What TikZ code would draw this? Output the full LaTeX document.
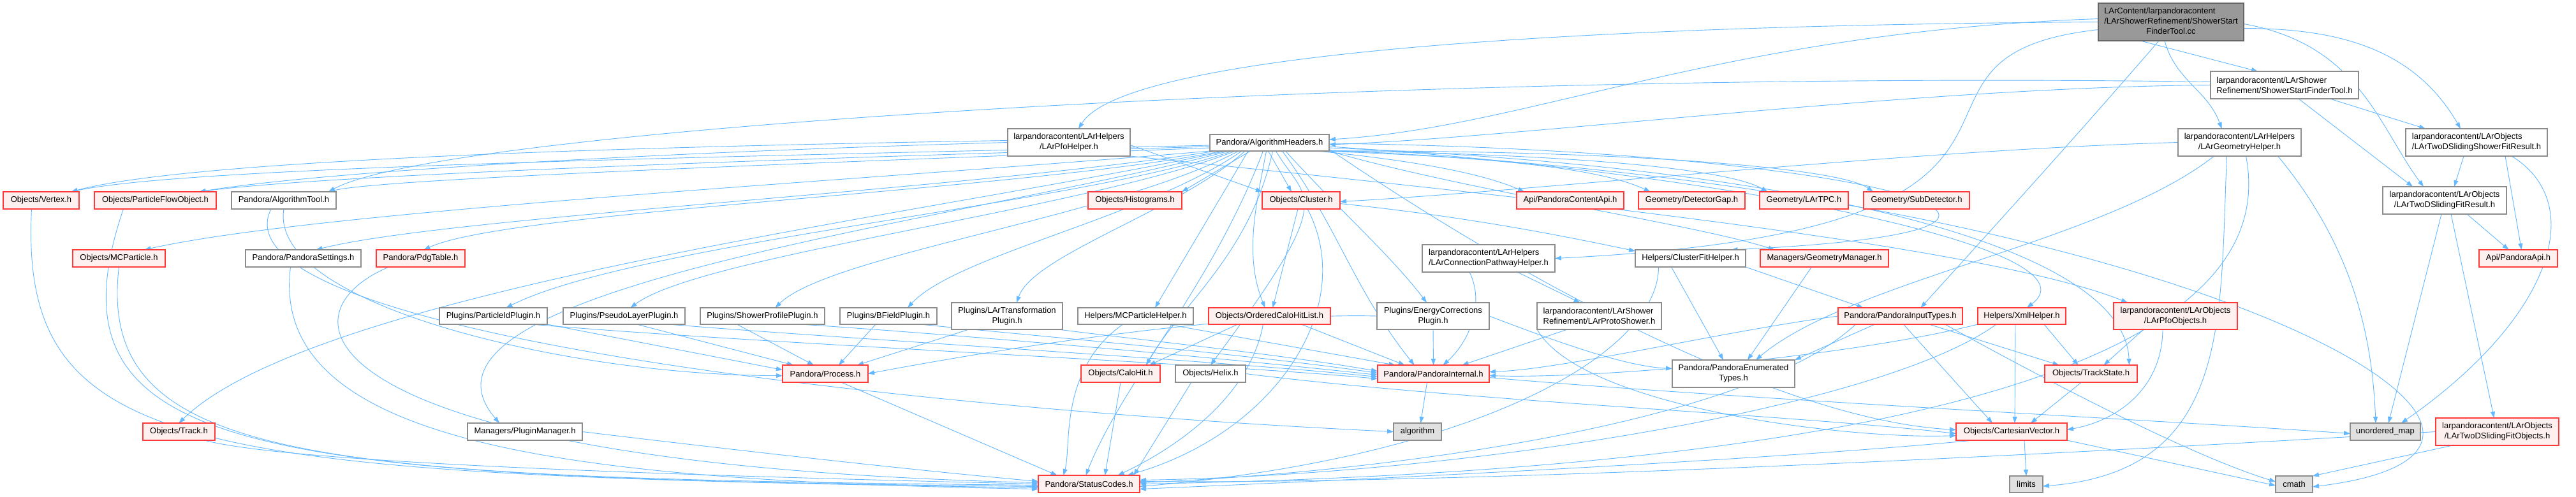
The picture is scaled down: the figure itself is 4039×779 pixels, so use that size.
\documentclass[tikz,border=0pt]{standalone}
\usepackage{fontspec}
\setmainfont{Liberation Sans}
\usetikzlibrary{arrows.meta}
\pgfdeclarelayer{bottom}
\pgfdeclarelayer{edges}
\pgfsetlayers{bottom,edges,main}
\definecolor{edgec}{HTML}{63B8FF}
\definecolor{redfill}{HTML}{FFF0F0}
\definecolor{redline}{HTML}{FF3838}
\definecolor{grayline}{HTML}{8C8C8C}
\definecolor{nolinkfill}{HTML}{E0E0E0}
\definecolor{topfill}{HTML}{999999}
\definecolor{topline}{HTML}{666666}
\newcommand\mkbox[7]{\node[#1, minimum width={(#5-#3)*1pt}, minimum height={(#6-#4)*1pt}] (#2) at ({(#3+#5)/2},{(#4+#6)/2}) {#7};}
\begin{document}
\begin{tikzpicture}[x=1pt,y=-1pt,
  font=\fontsize{13}{16}\selectfont,
  base/.style={draw, line width=1.3pt, inner sep=0pt, outer sep=0pt},
  redbox/.style={base, draw=redline, fill=redfill, align=center},
  whitebox/.style={base, draw=grayline, fill=white, align=center},
  whiteleft/.style={base, draw=grayline, fill=white, align=left},
  nolink/.style={base, draw=grayline, fill=nolinkfill},
  topbox/.style={base, draw=topline, fill=topfill},
  edge/.style={draw=edgec, line width=0.9pt, -{Triangle[length=10pt,width=7pt]}},
]
\useasboundingbox (0,0) rectangle (4039,779);
\begin{pgfonlayer}{bottom}
\fill[white] (0,0) rectangle (4039,779);
\end{pgfonlayer}

% ---------- nodes ----------
\mkbox{topbox}{cc}{3290}{5}{3518}{64}{\begin{tabular}{@{}l@{}}LArContent/larpandoracontent\\/LArShowerRefinement/ShowerStart\\\multicolumn{1}{@{}c@{}}{FinderTool.cc}\end{tabular}}
\mkbox{whiteleft}{sftH}{3466}{112}{3698}{155}{larpandoracontent/LArShower\\Refinement/ShowerStartFinderTool.h}
\mkbox{whitebox}{pfoH}{1580}{202}{1772}{245}{larpandoracontent/LArHelpers\\/LArPfoHelper.h}
\mkbox{whitebox}{algH}{1897}{211}{2084}{237}{Pandora/AlgorithmHeaders.h}
\mkbox{whitebox}{geomH}{3415}{202}{3608}{245}{larpandoracontent/LArHelpers\\/LArGeometryHelper.h}
\mkbox{whiteleft}{tdssfr}{3772}{202}{3994}{245}{larpandoracontent/LArObjects\\/LArTwoDSlidingShowerFitResult.h}
\mkbox{whitebox}{tdsfr}{3736}{293}{3930}{336}{larpandoracontent/LArObjects\\/LArTwoDSlidingFitResult.h}

\mkbox{redbox}{vertex}{5}{301}{124}{328}{Objects/Vertex.h}
\mkbox{redbox}{pfo}{148}{301}{339}{328}{Objects/ParticleFlowObject.h}
\mkbox{whitebox}{algTool}{363}{301}{527}{328}{Pandora/AlgorithmTool.h}
\mkbox{redbox}{histo}{1706}{301}{1853}{328}{Objects/Histograms.h}
\mkbox{redbox}{cluster}{1979}{301}{2101}{328}{Objects/Cluster.h}
\mkbox{redbox}{contentApi}{2378}{301}{2546}{328}{Api/PandoraContentApi.h}
\mkbox{redbox}{detGap}{2569}{301}{2736}{328}{Geometry/DetectorGap.h}
\mkbox{redbox}{lartpc}{2759}{301}{2898}{328}{Geometry/LArTPC.h}
\mkbox{redbox}{subdet}{2922}{301}{3088}{328}{Geometry/SubDetector.h}

\mkbox{whiteleft}{connH}{2230}{384}{2438}{427}{larpandoracontent/LArHelpers\\/LArConnectionPathwayHelper.h}
\mkbox{redbox}{mcp}{114}{392}{259}{419}{Objects/MCParticle.h}
\mkbox{whitebox}{settings}{385}{392}{566}{419}{Pandora/PandoraSettings.h}
\mkbox{redbox}{pdg}{590}{392}{729}{419}{Pandora/PdgTable.h}
\mkbox{whitebox}{cfh}{2564}{392}{2737}{419}{Helpers/ClusterFitHelper.h}
\mkbox{redbox}{geoMgr}{2760}{392}{2961}{419}{Managers/GeometryManager.h}
\mkbox{redbox}{pandoraApi}{3887}{392}{4010}{419}{Api/PandoraApi.h}

\mkbox{whitebox}{pidPlugin}{689}{483}{858}{509}{Plugins/ParticleIdPlugin.h}
\mkbox{whitebox}{pseudoPlugin}{883}{483}{1074}{509}{Plugins/PseudoLayerPlugin.h}
\mkbox{whitebox}{showerPlugin}{1098}{483}{1293}{509}{Plugins/ShowerProfilePlugin.h}
\mkbox{whitebox}{bfieldPlugin}{1317}{483}{1469}{509}{Plugins/BFieldPlugin.h}
\mkbox{whitebox}{lartPlugin}{1492}{475}{1666}{517}{Plugins/LArTransformation\\Plugin.h}
\mkbox{whitebox}{mcpHelper}{1690}{483}{1871}{509}{Helpers/MCParticleHelper.h}
\mkbox{redbox}{ocl}{1895}{483}{2086}{509}{Objects/OrderedCaloHitList.h}
\mkbox{whitebox}{eCorrPlugin}{2159}{475}{2335}{517}{Plugins/EnergyCorrections\\Plugin.h}
\mkbox{whiteleft}{protoShower}{2410}{475}{2605}{517}{larpandoracontent/LArShower\\Refinement/LArProtoShower.h}
\mkbox{redbox}{inputTypes}{2882}{483}{3077}{509}{Pandora/PandoraInputTypes.h}
\mkbox{redbox}{xmlHelper}{3101}{483}{3239}{509}{Helpers/XmlHelper.h}
\mkbox{redbox}{pfoObj}{3314}{475}{3508}{517}{larpandoracontent/LArObjects\\/LArPfoObjects.h}

\mkbox{redbox}{process}{1227}{573}{1361}{600}{Pandora/Process.h}
\mkbox{redbox}{caloHit}{1695}{573}{1819}{600}{Objects/CaloHit.h}
\mkbox{whitebox}{helix}{1843}{573}{1953}{600}{Objects/Helix.h}
\mkbox{redbox}{internal}{2160}{573}{2335}{600}{Pandora/PandoraInternal.h}
\mkbox{whitebox}{enumTypes}{2622}{565}{2814}{608}{Pandora/PandoraEnumerated\\Types.h}
\mkbox{redbox}{trackState}{3206}{573}{3351}{600}{Objects/TrackState.h}

\mkbox{redbox}{track}{224}{664}{337}{691}{Objects/Track.h}
\mkbox{whitebox}{pluginMgr}{733}{664}{913}{691}{Managers/PluginManager.h}
\mkbox{nolink}{algorithm}{2185}{664}{2260}{691}{algorithm}
\mkbox{redbox}{cartVec}{3067}{664}{3241}{691}{Objects/CartesianVector.h}
\mkbox{nolink}{umap}{3685}{664}{3795}{691}{unordered\_map}
\mkbox{redbox}{tdsfObj}{3819}{656}{4012}{699}{larpandoracontent/LArObjects\\/LArTwoDSlidingFitObjects.h}

\mkbox{redbox}{statusCodes}{1628}{746}{1787}{773}{Pandora/StatusCodes.h}
\mkbox{nolink}{limits}{3151}{747}{3203}{773}{limits}
\mkbox{nolink}{cmath}{3568}{747}{3626}{773}{cmath}

\begin{pgfonlayer}{edges}
% ---------- edges from the source file ----------
\draw[edge] ([xshift=-48pt]cc.south) -- ([xshift=-42pt]sftH.north);
\draw[edge] ([xshift=-10pt]cc.south) to[out=-75,in=110] ([xshift=-28pt]geomH.north);
\draw[edge] ([yshift=-10pt]cc.east) to[out=0,in=120] ([xshift=-25pt]tdssfr.north);
\draw[edge] ([yshift=-3pt]cc.east) .. controls (3700,70) and (3730,200) .. ([xshift=-33pt]tdsfr.north);
\draw[edge] (cc.west) .. controls (2400,40) and (1760,90) .. ([xshift=15pt]pfoH.north);
\draw[edge] ([yshift=5pt]cc.west) .. controls (2700,50) and (2400,200) .. ([yshift=5pt]algH.east);
\draw[edge] ([xshift=-19pt]cc.south) .. controls (3250,220) and (3150,330) .. ([xshift=32pt]inputTypes.north);
\draw[edge] ([yshift=-12pt]cc.west) .. controls (2900,90) and (3350,360) .. (connH.east);

% ---------- ShowerStartFinderTool.h ----------
\draw[edge] ([xshift=22pt]sftH.south) -- ([xshift=-50pt]tdsfr.north);
\draw[edge] ([xshift=71pt]sftH.south) -- ([xshift=-80pt]tdssfr.north);
\draw[edge] (sftH.west) .. controls (3000,137) and (2400,215) .. ([yshift=-3pt]algH.east);
\draw[edge] ([yshift=5pt]sftH.west) .. controls (2200,110) and (700,200) .. ([xshift=-12pt]algTool.north east);

% ---------- LArPfoHelper ----------
\draw[edge] ([yshift=3pt]pfoH.west) .. controls (1000,230) and (300,250) .. ([xshift=47pt]vertex.north);
\draw[edge] (pfoH.west) .. controls (1000,240) and (500,270) .. ([xshift=69pt]pfo.north);
\draw[edge] ([yshift=-4pt]pfoH.east) -- (cluster.north west);
\draw[edge] (pfoH.south east) .. controls (2300,300) and (3100,380) .. ([xshift=-75pt]pfoObj.north);

% ---------- AlgorithmHeaders fan ----------
\draw[edge] ([yshift=-4pt]algH.west) .. controls (1200,245) and (300,260) .. ([xshift=47pt]vertex.north);
\draw[edge] ([yshift=-6pt]algH.west) .. controls (1200,250) and (500,275) .. ([xshift=69pt]pfo.north);
\draw[edge] ([yshift=-8pt]algH.west) .. controls (1300,255) and (600,280) .. ([xshift=-12pt]algTool.north east);
\draw[edge] (algH.south west) .. controls (1400,280) and (500,330) .. ([xshift=40pt]mcp.north);
\draw[edge] ([xshift=10pt]algH.south west) .. controls (1500,300) and (700,340) .. ([xshift=20pt]settings.north);
\draw[edge] ([xshift=20pt]algH.south west) .. controls (1600,300) and (800,330) .. ([xshift=5pt]pdg.north);
\draw[edge] ([xshift=25pt]algH.south west) .. controls (1500,330) and (500,450) .. (track.north);
\draw[edge] ([xshift=30pt]algH.south west) .. controls (1500,350) and (600,450) .. ([xshift=-40pt]pluginMgr.north);
\draw[edge] ([xshift=35pt]algH.south west) .. controls (1700,320) and (1000,380) .. ([xshift=20pt]pidPlugin.north);
\draw[edge] ([xshift=40pt]algH.south west) .. controls (1700,330) and (1100,400) .. ([xshift=10pt]pseudoPlugin.north);
\draw[edge] ([xshift=45pt]algH.south west) .. controls (1750,340) and (1300,400) .. ([xshift=20pt]showerPlugin.north);
\draw[edge] ([xshift=50pt]algH.south west) .. controls (1800,340) and (1500,400) .. ([xshift=30pt]bfieldPlugin.north);
\draw[edge] ([xshift=55pt]algH.south west) .. controls (1850,330) and (1620,400) .. ([xshift=15pt]lartPlugin.north);
\draw[edge] ([xshift=60pt]algH.south west) -- ([xshift=-60pt]mcpHelper.north east);
\draw[edge] ([xshift=-5pt]algH.south) .. controls (1970,320) and (1950,400) .. ([xshift=-7pt]ocl.north);
\draw[edge] ([xshift=-30pt]algH.south) -- (histo.north east);
\draw[edge] ([xshift=-2pt]algH.south) -- ([xshift=-15pt]cluster.north);
\draw[edge] ([xshift=10pt]algH.south) .. controls (2050,320) and (2100,300) .. (helix.north);
\draw[edge] ([xshift=5pt]algH.south) .. controls (1960,400) and (1850,480) .. ([xshift=40pt]caloHit.north);
\draw[edge] ([xshift=-10pt]algH.south) .. controls (1900,450) and (1760,600) .. ([xshift=-5pt]statusCodes.north);
\draw[edge] ([xshift=25pt]algH.south) .. controls (2100,330) and (2180,400) .. ([xshift=-10pt]eCorrPlugin.north);
\draw[edge] ([xshift=20pt]algH.south) .. controls (2100,360) and (2120,450) .. ([xshift=-30pt]internal.north);
\draw[edge] ([xshift=-20pt]algH.south east) .. controls (2200,250) and (2320,270) .. ([xshift=-72pt]contentApi.north);
\draw[edge] ([xshift=-15pt]algH.south east) .. controls (2300,245) and (2500,260) .. ([xshift=-65pt]detGap.north);
\draw[edge] ([xshift=-10pt]algH.south east) .. controls (2400,240) and (2700,260) .. ([xshift=-57pt]lartpc.north);
\draw[edge] ([xshift=-5pt]algH.south east) .. controls (2500,235) and (2880,260) .. ([xshift=-68pt]subdet.north);
\draw[edge] ([yshift=-1pt]algH.east) .. controls (2900,235) and (3400,360) .. ([xshift=64pt]cfh.north);
\draw[edge] (algH.south east) .. controls (2300,300) and (2650,350) .. ([xshift=-78pt]geoMgr.north);
\draw[edge] ([yshift=-6pt]algH.east) .. controls (2700,270) and (3300,390) .. ([xshift=8pt]xmlHelper.north);
\draw[edge] ([yshift=-8pt]algH.east) .. controls (2800,260) and (3330,380) .. ([xshift=60pt]trackState.north);
\draw[edge] ([yshift=-10pt]algH.east) .. controls (2400,450) and (2800,660) .. ([yshift=3pt]cartVec.west);
\draw[edge] ([yshift=-12pt]algH.east) .. controls (3400,290) and (4150,700) .. ([yshift=-4pt]cmath.east);

% ---------- left column to StatusCodes ----------
\draw[edge] ([xshift=-15pt]vertex.south) .. controls (30,720) and (300,745) .. ([yshift=-6pt]statusCodes.west);
\draw[edge] ([xshift=-50pt]pfo.south) .. controls (60,720) and (400,750) .. ([yshift=-4pt]statusCodes.west);
\draw[edge] (mcp.south) .. controls (150,730) and (500,750) .. ([yshift=-2pt]statusCodes.west);
\draw[edge] ([xshift=40pt]track.south) .. controls (450,725) and (1000,745) .. (statusCodes.west);
\draw[edge] ([xshift=-20pt]settings.south) .. controls (420,700) and (900,755) .. ([yshift=-8pt]statusCodes.west);
\draw[edge] ([xshift=-50pt]pdg.south) .. controls (420,500) and (500,730) .. ([yshift=2pt]statusCodes.west);
\draw[edge] (pluginMgr.east) .. controls (1100,700) and (1400,735) .. ([yshift=4pt]statusCodes.west);
\draw[edge] ([xshift=-20pt]algTool.south) .. controls (330,520) and (1400,640) .. (algorithm.west);
\draw[edge] (algTool.south) .. controls (420,480) and (900,590) .. ([yshift=-3pt]process.west);

% ---------- plugins ----------
\draw[edge] (pidPlugin.south east) -- ([yshift=6pt]process.west);
\draw[edge] ([xshift=20pt]pseudoPlugin.south) -- ([xshift=-50pt]process.north);
\draw[edge] ([xshift=-40pt]showerPlugin.south) -- ([xshift=-18pt]process.north);
\draw[edge] ([xshift=-20pt]bfieldPlugin.south) -- ([xshift=21pt]process.north);
\draw[edge] ([xshift=-60pt]lartPlugin.south) -- ([xshift=50pt]process.north);
\draw[edge] (eCorrPlugin.west) .. controls (1900,490) and (1500,560) .. (process.east);
\draw[edge] ([xshift=60pt]pidPlugin.south) .. controls (1200,540) and (1900,570) .. ([yshift=-8pt]internal.west);
\draw[edge] ([xshift=70pt]pseudoPlugin.south) .. controls (1300,530) and (1900,565) .. ([yshift=-5pt]internal.west);
\draw[edge] ([xshift=60pt]showerPlugin.south) .. controls (1500,525) and (1900,560) .. ([yshift=-2pt]internal.west);
\draw[edge] ([xshift=50pt]bfieldPlugin.south) .. controls (1600,525) and (1950,555) .. ([yshift=1pt]internal.west);
\draw[edge] ([xshift=80pt]lartPlugin.south) .. controls (1800,535) and (2000,555) .. ([yshift=4pt]internal.west);
\draw[edge] (eCorrPlugin.south) -- ([xshift=0pt]internal.north);
\draw[edge] (eCorrPlugin.east) .. controls (2450,540) and (2550,575) .. ([yshift=8pt]enumTypes.west);

% ---------- helpers / objects ----------
\draw[edge] ([xshift=-20pt]mcpHelper.south) .. controls (1660,580) and (1680,700) .. ([xshift=-40pt]statusCodes.north);
\draw[edge] ([xshift=50pt]mcpHelper.south) -- ([xshift=-60pt]internal.north);
\draw[edge] ([xshift=-50pt]ocl.south) -- ([xshift=45pt]caloHit.north);
\draw[edge] ([xshift=50pt]ocl.south) -- ([xshift=-45pt]internal.north);
\draw[edge] ([xshift=-10pt]ocl.south) .. controls (1960,620) and (1850,700) .. ([xshift=45pt]statusCodes.north);
\draw[edge] ([xshift=-5pt]cluster.south) -- ([xshift=5pt]ocl.north);
\draw[edge] ([xshift=10pt]cluster.south) .. controls (2130,480) and (2000,680) .. ([xshift=60pt]statusCodes.north);
\draw[edge] ([yshift=-5pt]cluster.east) .. controls (2300,340) and (2450,370) .. ([yshift=-2pt]cfh.north west);
\draw[edge] (caloHit.south) -- ([xshift=25pt]statusCodes.north);
\draw[edge] ([xshift=-30pt]helix.south) -- ([xshift=70pt]statusCodes.north);
\draw[edge] (helix.east) .. controls (2300,630) and (2800,650) .. ([yshift=-3pt]cartVec.west);
\draw[edge] ([xshift=25pt]process.south) -- ([xshift=-50pt]statusCodes.north);
\draw[edge] ([xshift=-10pt]internal.south) -- ([xshift=5pt]algorithm.north);
\draw[edge] ([yshift=-6pt]internal.east) .. controls (2700,625) and (3400,660) .. ([yshift=-3pt]umap.west);

\draw[edge] ([xshift=-30pt]connH.south) .. controls (2330,480) and (2300,540) .. ([xshift=15pt]internal.north);
\draw[edge] ([xshift=45pt]connH.south) -- ([xshift=-30pt]protoShower.north);
\draw[edge] ([xshift=-50pt]protoShower.south) -- ([xshift=45pt]internal.north);
\draw[edge] (protoShower.south west) .. controls (2480,640) and (2900,690) .. ([yshift=-6pt]cartVec.west);

\draw[edge] ([xshift=-30pt]cfh.south) -- ([xshift=-16pt]enumTypes.north);
\draw[edge] (cfh.south east) -- ([xshift=-58pt]inputTypes.north);
\draw[edge] ([xshift=-50pt]cfh.south) .. controls (2600,560) and (2300,720) .. ([yshift=-4pt]statusCodes.east);
\draw[edge] ([xshift=-20pt]geoMgr.south) -- ([xshift=22pt]enumTypes.north);

\draw[edge] ([xshift=-40pt]inputTypes.south) -- (enumTypes.north east);
\draw[edge] ([xshift=45pt]inputTypes.south) -- ([xshift=-50pt]trackState.north);
\draw[edge] ([xshift=5pt]inputTypes.south) -- ([xshift=-30pt]cartVec.north);
\draw[edge] (inputTypes.west) .. controls (2700,520) and (2450,580) .. ([yshift=3pt]internal.east);
\draw[edge] ([xshift=-70pt]inputTypes.south) .. controls (2750,660) and (2200,740) .. ([yshift=2pt]statusCodes.east);
\draw[edge] ([xshift=70pt]inputTypes.south) .. controls (3250,620) and (3450,720) .. ([yshift=4pt]cmath.west);

\draw[edge] ([xshift=35pt]xmlHelper.south) -- ([xshift=-20pt]trackState.north);
\draw[edge] ([xshift=-10pt]xmlHelper.south) -- ([xshift=5pt]cartVec.north);
\draw[edge] (xmlHelper.south west) .. controls (2900,560) and (2500,595) .. ([yshift=-3pt]internal.east);
\draw[edge] ([xshift=-40pt]xmlHelper.south) .. controls (2950,640) and (2300,745) .. ([yshift=6pt]statusCodes.east);
\draw[edge] ([xshift=-15pt]trackState.south) -- ([xshift=30pt]cartVec.north);
\draw[edge] ([xshift=-50pt]pfoObj.south) -- ([xshift=20pt]trackState.north);
\draw[edge] ([xshift=-20pt]pfoObj.south) .. controls (3390,610) and (3320,660) .. ([yshift=3pt]cartVec.east);

\draw[edge] ([xshift=-60pt]cartVec.south) .. controls (2800,720) and (2200,750) .. ([yshift=-8pt]statusCodes.east);
\draw[edge] ([xshift=20pt]cartVec.south) -- (limits.north);
\draw[edge] (cartVec.south east) -- ([yshift=-2pt]cmath.west);

% ---------- LAr helpers / objects ----------
\draw[edge] (geomH.west) .. controls (3000,235) and (2400,300) .. ([yshift=-2pt]cluster.east);
\draw[edge] ([xshift=-40pt]geomH.south) .. controls (3300,380) and (2900,440) .. ([xshift=35pt]enumTypes.north);
\draw[edge] ([xshift=10pt]geomH.south) .. controls (3600,650) and (2600,745) .. (statusCodes.east);
\draw[edge] ([xshift=60pt]geomH.south) .. controls (3700,400) and (3720,550) .. ([xshift=-15pt]umap.north);
\draw[edge] ([xshift=-20pt]geomH.south) .. controls (3480,500) and (3500,740) .. ([yshift=-3pt]limits.east);

\draw[edge] ([xshift=-20pt]tdssfr.south) -- ([xshift=15pt]tdsfr.north);
\draw[edge] ([xshift=45pt]tdssfr.south) -- ([xshift=5pt]pandoraApi.north);
\draw[edge] ([xshift=55pt]tdssfr.south) .. controls (4060,320) and (4000,500) .. ([xshift=25pt]umap.north);
\draw[edge] ([xshift=35pt]tdsfr.south) -- ([xshift=-15pt]pandoraApi.north);
\draw[edge] ([xshift=10pt]tdsfr.south) -- ([xshift=-5pt]tdsfObj.north);
\draw[edge] ([xshift=-5pt]tdsfr.south) -- ([xshift=5pt]umap.north);
\draw[edge] ([xshift=-70pt]tdsfObj.south) -- (cmath.north east);
\draw[edge] (tdsfObj.west) .. controls (3200,715) and (2300,760) .. ([yshift=4pt]statusCodes.east);
\end{pgfonlayer}
\end{tikzpicture}
\end{document}
